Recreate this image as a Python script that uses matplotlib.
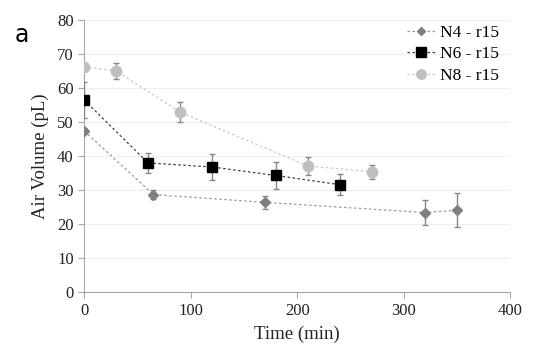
import matplotlib
matplotlib.use("Agg")
from matplotlib import pyplot as plt
from matplotlib.lines import Line2D

# data
n4_t = [0, 65, 170, 320, 350]
n4_v = [47.4, 28.7, 26.4, 23.4, 24.1]
n4_e = [1.0, 1.4, 1.9, 3.7, 5.0]

n6_t = [0, 60, 120, 180, 240]
n6_v = [56.5, 38.0, 36.8, 34.3, 31.6]
n6_e = [5.3, 3.0, 3.9, 4.0, 3.0]

n8_t = [0, 30, 90, 210, 270]
n8_v = [66.2, 65.1, 52.9, 37.1, 35.4]
n8_e = [1.0, 2.3, 3.0, 2.6, 2.1]

labels = ['N4 - r15', 'N6 - r15', 'N8 - r15']

plt.rcParams['font.family'] = ['Liberation Serif', 'DejaVu Serif']

fig = plt.figure(figsize=(5.5, 3.52), dpi=100)
ax = fig.add_axes([0.153, 0.17, 0.775, 0.773])

ecol = '#8c8198'
styles = [('D', 5, '#7f7f7f', '#9a9a9a'),
          ('s', 7.5, 'black', '#404040'),
          ('o', 7.5, '#bfbfbf', '#c8c8c8')]
series = [(n4_t, n4_v, n4_e), (n6_t, n6_v, n6_e), (n8_t, n8_v, n8_e)]
handles = []
for (t, v, e), (mk, ms, mc, lc), lab in zip(series, styles, labels):
    ax.plot(t, v, ls=(0, (2, 2)), lw=0.9, color=lc, zorder=2)
    ax.errorbar(t, v, yerr=e, fmt='none', ecolor=ecol, elinewidth=1,
                capsize=2.5, zorder=3)
    ax.plot(t, v, ls='none', marker=mk, ms=ms, color=mc, zorder=4)
    handles.append(Line2D([], [], ls=(0, (2, 2)), lw=0.9, color=lc,
                          marker=mk, ms=ms * 0.9, mfc=mc, mec=mc, label=lab))

ax.set_xlim(0, 400)
ax.set_ylim(0, 80)
ax.set_xticks(range(0, 401, 100))
ax.set_yticks(range(0, 81, 10))
ax.yaxis.grid(True, color='#efefef', lw=0.8)
ax.set_axisbelow(True)
for s in ['top', 'right']:
    ax.spines[s].set_visible(False)
for s in ['left', 'bottom']:
    ax.spines[s].set_color('#a6a6a6')
ax.tick_params(colors='#a6a6a6', labelcolor='#222222', labelsize=12, length=4)

ax.set_xlabel('Time (min)', fontsize=13.5, color='#222222', labelpad=5)
ax.set_ylabel('Air Volume (pL)', fontsize=13.5, color='#222222', labelpad=6)

ax.legend(handles=handles, loc='upper right', frameon=False, fontsize=12.5,
          handlelength=1.6, handletextpad=0.3, labelspacing=0.3,
          bbox_to_anchor=(1.01, 1.04))

fig.text(0.027, 0.88, 'a', fontsize=17, family='DejaVu Sans')

fig.savefig('out.png', dpi=100)
